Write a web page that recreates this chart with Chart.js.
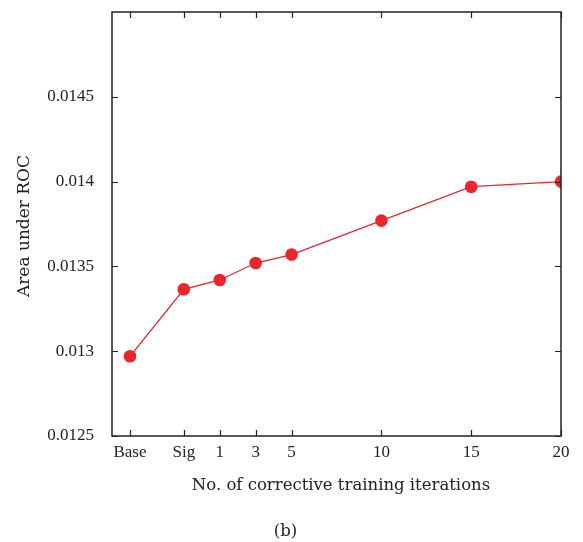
<!DOCTYPE html>
<html>
<head>
<meta charset="utf-8">
<title>Area under ROC</title>
<script src="https://cdn.jsdelivr.net/npm/chart.js@4/dist/chart.umd.min.js"></script>
<style>
  html, body { margin: 0; padding: 0; background: #fff; }
  #wrap { width: 583px; height: 542px; }
</style>
</head>
<body>
<div id="wrap"><canvas id="rocChart" width="583" height="542"></canvas></div>
<script>
// ---- Data ----
const xLabels = ['Base', 'Sig', '1', '3', '5', '10', '15', '20'];
const xPositions = [-4, -1, 1, 3, 5, 10, 15, 20];
const aucValues = [0.01297, 0.013365, 0.01342, 0.01352, 0.01357, 0.01377, 0.01397, 0.0140];
const yTicks = [0.0125, 0.013, 0.0135, 0.014, 0.0145];

const FONT = '"Liberation Serif", "Times New Roman", serif';
const TITLE_FONT = '"DejaVu Serif", serif';
const RED = '#e8262b';
const INK = '#222';

// Box frame with inward ticks on all four sides, plus the axis titles and panel label
const framePlugin = {
  id: 'frame',
  afterDraw(chart) {
    const { ctx, chartArea: a, scales } = chart;
    const tick = 6;
    ctx.save();
    ctx.strokeStyle = INK;
    ctx.lineWidth = 1.5;
    ctx.strokeRect(a.left, a.top, a.right - a.left, a.bottom - a.top);

    ctx.lineWidth = 1.2;
    ctx.beginPath();
    xPositions.forEach(v => {
      const px = Math.round(scales.x.getPixelForValue(v)) + 0.5;
      ctx.moveTo(px, a.bottom); ctx.lineTo(px, a.bottom - tick);
      ctx.moveTo(px, a.top); ctx.lineTo(px, a.top + tick);
    });
    yTicks.forEach(v => {
      const py = Math.round(scales.y.getPixelForValue(v)) + 0.5;
      ctx.moveTo(a.left, py); ctx.lineTo(a.left + tick, py);
      ctx.moveTo(a.right, py); ctx.lineTo(a.right - tick, py);
    });
    ctx.stroke();

    ctx.fillStyle = INK;
    ctx.textAlign = 'center';
    ctx.textBaseline = 'middle';
    ctx.font = '17px ' + TITLE_FONT;
    ctx.save();
    ctx.translate(25, 226);
    ctx.rotate(-Math.PI / 2);
    ctx.fillText('Area under ROC', 0, 0);
    ctx.restore();

    const cx = (a.left + a.right) / 2;
    ctx.font = '16.5px ' + TITLE_FONT;
    ctx.textBaseline = 'alphabetic';
    ctx.fillText('No. of corrective training iterations', cx + 4.5, 490);
    ctx.fillText('(b)', cx - 51, 536);
    ctx.restore();
  }
};

const ctx = document.getElementById('rocChart');

new Chart(ctx.getContext('2d'), {
  type: 'line',
  data: {
    datasets: [{
      label: 'Area under ROC',
      data: xPositions.map((x, i) => ({ x: x, y: aucValues[i] })),
      borderColor: RED,
      backgroundColor: RED,
      borderWidth: 1.3,
      pointRadius: 6.3,
      pointBackgroundColor: RED,
      pointBorderWidth: 0,
      tension: 0,
      fill: false,
    }],
  },
  options: {
    responsive: false,
    animation: false,
    layout: { padding: { top: 12, right: 22, left: 0, bottom: 0 } },
    plugins: {
      legend: { display: false },
      tooltip: { enabled: false },
    },
    scales: {
      x: {
        type: 'linear',
        min: -5,
        max: 20,
        afterBuildTicks: scale => {
          scale.ticks = xPositions.map(v => ({ value: v }));
        },
        afterFit: scale => {
          scale.height = 106;
          scale.paddingLeft = 0;
          scale.paddingRight = 0;
        },
        ticks: {
          autoSkip: false,
          maxRotation: 0,
          padding: 6,
          color: INK,
          font: { family: FONT, size: 17 },
          callback: value => xLabels[xPositions.indexOf(value)],
        },
        grid: { display: false, drawTicks: false },
        border: { display: false },
      },
      y: {
        min: 0.0125,
        max: 0.015,
        afterBuildTicks: scale => {
          scale.ticks = yTicks.map(v => ({ value: v }));
        },
        afterFit: scale => {
          scale.width = 112;
          scale.paddingTop = 0;
          scale.paddingBottom = 0;
        },
        ticks: {
          padding: 18,
          color: INK,
          font: { family: FONT, size: 17 },
          callback: value => String(value),
        },
        grid: { display: false, drawTicks: false },
        border: { display: false },
      },
    },
  },
  plugins: [framePlugin],
});
</script>
</body>
</html>
